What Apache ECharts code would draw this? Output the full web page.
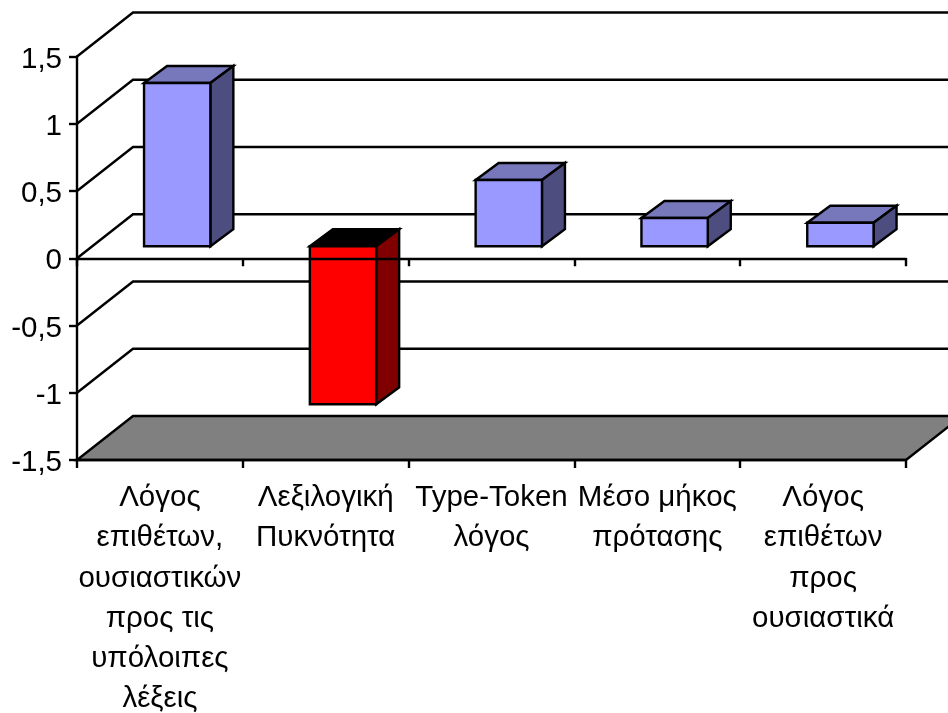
<!DOCTYPE html>
<html>
<head>
<meta charset="utf-8">
<style>html,body{margin:0;padding:0;background:#fff}#c{width:948px;height:713px}</style>
<script src="https://cdn.jsdelivr.net/npm/echarts@6/dist/echarts.min.js"></script>
</head>
<body>
<div id="c"></div>
<script>
const categories = [
  "Λόγος\nεπιθέτων,\nουσιαστικών\nπρος τις\nυπόλοιπες\nλέξεις",
  "Λεξιλογική\nΠυκνότητα",
  "Type-Token\nλόγος",
  "Μέσο μήκος\nπρότασης",
  "Λόγος\nεπιθέτων\nπρος\nουσιαστικά"
];
const barValues = [1.214, -1.175, 0.493, 0.21, 0.175];
const wallValues = [1.5, 1, 0.5, 0, -0.5, -1];
const floorValue = [-1.5];

const WALL_DX = 56, WALL_DY = -44;
const BAR_DX = 23, BAR_DY = -17;
const BAR_OFF_X = 17.3, BAR_OFF_Y = -12;
const LW = 2.4;
const FONT = "'Liberation Sans', Arial, sans-serif";

const poly = (points, fill) => ({
  type: 'polygon',
  shape: { points },
  style: { fill, stroke: '#000', lineWidth: LW, lineJoin: 'miter' }
});

const chart = echarts.init(document.getElementById('c'));
chart.setOption({
  animation: false,
  backgroundColor: '#fff',
  grid: { left: 77, width: 829, top: 56.5, height: 403.5, containLabel: false, outerBoundsMode: 'none' },
  xAxis: [
    {
      type: 'category', data: categories, position: 'bottom', boundaryGap: true,
      axisLine: { onZero: false, lineStyle: { color: '#000', width: LW } },
      axisTick: { show: true, alignWithLabel: false, length: 8, lineStyle: { color: '#000', width: LW } },
      axisLabel: { interval: 0, color: '#000', fontFamily: FONT, fontSize: 29.5, lineHeight: 40.2, margin: 18, hideOverlap: false },
      z: 6
    },
    {
      type: 'category', data: categories, position: 'bottom', boundaryGap: true,
      axisLine: { onZero: true, onZeroAxisIndex: 0, lineStyle: { color: '#000', width: LW } },
      axisTick: { show: true, length: 8, lineStyle: { color: '#000', width: LW } },
      axisLabel: { show: false },
      z: 6
    }
  ],
  yAxis: {
    type: 'value', min: -1.5, max: 1.5, interval: 0.5,
    axisLine: { show: true, onZero: false, lineStyle: { color: '#000', width: LW } },
    axisTick: { show: true, length: 8, lineStyle: { color: '#000', width: LW } },
    splitLine: { show: false },
    axisLabel: {
      color: '#000', fontFamily: FONT, fontSize: 29.5, margin: 15,
      verticalAlign: 'top', lineHeight: 6,
      formatter: v => String(v).replace('.', ',')
    },
    z: 6
  },
  series: [
    {
      type: 'custom', coordinateSystem: 'cartesian2d', z: 1, silent: true,
      data: wallValues.map(v => [0, v]),
      encode: { x: 0, y: 1 },
      renderItem(params, api) {
        const cs = params.coordSys;
        const y = api.coord([0, api.value(1)])[1];
        return {
          type: 'polyline',
          shape: { points: [[cs.x, y], [cs.x + WALL_DX, y + WALL_DY], [cs.x + cs.width + WALL_DX, y + WALL_DY]] },
          style: { fill: null, stroke: '#000', lineWidth: LW }
        };
      }
    },
    {
      type: 'custom', coordinateSystem: 'cartesian2d', z: 2, silent: true,
      data: floorValue.map(v => [0, v]),
      encode: { x: 0, y: 1 },
      renderItem(params, api) {
        const cs = params.coordSys;
        const y = api.coord([0, api.value(1)])[1];
        return poly([[cs.x, y], [cs.x + WALL_DX, y + WALL_DY], [cs.x + cs.width + WALL_DX, y + WALL_DY], [cs.x + cs.width, y]], '#808080');
      }
    },
    {
      type: 'custom', coordinateSystem: 'cartesian2d', z: 3, silent: true,
      data: barValues.map((v, i) => [i, v]),
      encode: { x: 0, y: 1 },
      renderItem(params, api) {
        const i = api.value(0), v = api.value(1);
        const band = api.size([1, 0])[0];
        const w = band * 0.4;
        const cx = api.coord([i, 0])[0] + BAR_OFF_X;
        const l = cx - w / 2, r = cx + w / 2;
        const y0 = api.coord([i, 0])[1] + BAR_OFF_Y;
        const y1 = api.coord([i, v])[1] + BAR_OFF_Y;
        const yt = Math.min(y0, y1), yb = Math.max(y0, y1);
        const neg = v < 0;
        const front = neg ? '#FF0000' : '#9999FF';
        const side = neg ? '#800000' : '#4D4D80';
        const top = neg ? '#000000' : '#7777BB';
        return {
          type: 'group',
          children: [
            poly([[l, yt], [l + BAR_DX, yt + BAR_DY], [r + BAR_DX, yt + BAR_DY], [r, yt]], top),
            poly([[r, yt], [r + BAR_DX, yt + BAR_DY], [r + BAR_DX, yb + BAR_DY], [r, yb]], side),
            poly([[l, yt], [r, yt], [r, yb], [l, yb]], front)
          ]
        };
      }
    }
  ]
});
</script>
</body>
</html>
